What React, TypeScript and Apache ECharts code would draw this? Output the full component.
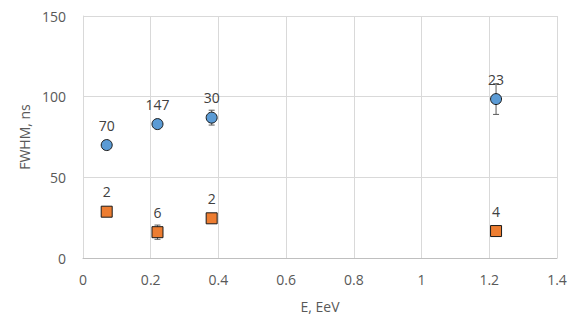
import React, { useEffect, useRef } from "react";
import * as echarts from "echarts";

const energy = [0.07, 0.22, 0.38, 1.22];
const blueFwhm = [70, 83, 87, 98.5];
const blueErr = [0, 0, 4.6, 9.5];
const blueCounts = ["70", "147", "30", "23"];
const orangeFwhm = [28.7, 16, 24.6, 16.7];
const orangeErr = [0, 4.4, 0, 0];
const orangeCounts = ["2", "6", "2", "4"];

const FONT = "'Open Sans', 'Liberation Sans', sans-serif";

function errorSeries(vals: number[], errs: number[]) {
  const data = energy
    .map((x, i) => [x, vals[i] - errs[i], vals[i] + errs[i]])
    .filter((d, i) => errs[i] > 0);
  return {
    type: "custom",
    z: 1,
    silent: true,
    data,
    encode: { x: 0, y: [1, 2] },
    renderItem: (params: any, api: any) => {
      const x = api.value(0);
      const lo = api.coord([x, api.value(1)]);
      const hi = api.coord([x, api.value(2)]);
      const w = 3;
      const style = { stroke: "#595959", lineWidth: 1 };
      return {
        type: "group",
        children: [
          { type: "line", shape: { x1: lo[0], y1: lo[1], x2: hi[0], y2: hi[1] }, style },
          { type: "line", shape: { x1: lo[0] - w, y1: lo[1], x2: lo[0] + w, y2: lo[1] }, style },
          { type: "line", shape: { x1: hi[0] - w, y1: hi[1], x2: hi[0] + w, y2: hi[1] }, style },
        ],
      };
    },
  };
}

export default function App() {
  const ref = useRef<HTMLDivElement>(null);
  useEffect(() => {
    if (!ref.current) return;
    const chart = echarts.init(ref.current, null, { renderer: "svg" });
    const labelStyle = {
      show: true,
      position: "top",
      distance: 7,
      fontSize: 14,
      color: "#404040",
      fontFamily: FONT,
    };
    chart.setOption({
      animation: false,
      backgroundColor: "#ffffff",
      grid: { left: 83, right: 25, top: 16, bottom: 73 },
      xAxis: {
        type: "value",
        min: 0,
        max: 1.4,
        interval: 0.2,
        name: "E, EeV",
        nameLocation: "middle",
        nameGap: 41,
        nameTextStyle: { fontSize: 14, color: "#595959", fontFamily: FONT },
        axisLine: { show: true, lineStyle: { color: "#bfbfbf" } },
        axisTick: { show: false },
        axisLabel: {
          fontSize: 14,
          color: "#595959",
          fontFamily: FONT,
          margin: 14,
          formatter: (v: number) => String(Math.round(v * 10) / 10),
        },
        splitLine: { show: true, lineStyle: { color: "#d9d9d9" } },
      },
      yAxis: {
        type: "value",
        min: 0,
        max: 150,
        interval: 50,
        name: "FWHM, ns",
        nameLocation: "middle",
        nameGap: 48,
        nameTextStyle: { fontSize: 14, color: "#595959", fontFamily: FONT },
        axisLine: { show: true, lineStyle: { color: "#d9d9d9" } },
        axisTick: { show: false },
        axisLabel: { fontSize: 14, color: "#595959", fontFamily: FONT, margin: 17 },
        splitLine: { show: true, lineStyle: { color: "#d9d9d9" } },
      },
      series: [
        errorSeries(blueFwhm, blueErr),
        errorSeries(orangeFwhm, orangeErr),
        {
          type: "scatter",
          z: 3,
          symbol: "circle",
          symbolSize: 11,
          itemStyle: { color: "#5b9bd5", borderColor: "#1a1a1a", borderWidth: 1, opacity: 1 },
          data: energy.map((x, i) => ({
            value: [x, blueFwhm[i]],
            label: { ...labelStyle, formatter: blueCounts[i] },
          })),
        },
        {
          type: "scatter",
          z: 3,
          symbol: "rect",
          symbolSize: 11,
          itemStyle: { color: "#ed7d31", borderColor: "#1a1a1a", borderWidth: 1, opacity: 1 },
          data: energy.map((x, i) => ({
            value: [x, orangeFwhm[i]],
            label: { ...labelStyle, formatter: orangeCounts[i] },
          })),
        },
      ],
    });
    return () => chart.dispose();
  }, []);
  return (
    <div
      ref={ref}
      style={{ position: "fixed", left: 0, top: 0, width: 582, height: 331, background: "#fff" }}
    />
  );
}
